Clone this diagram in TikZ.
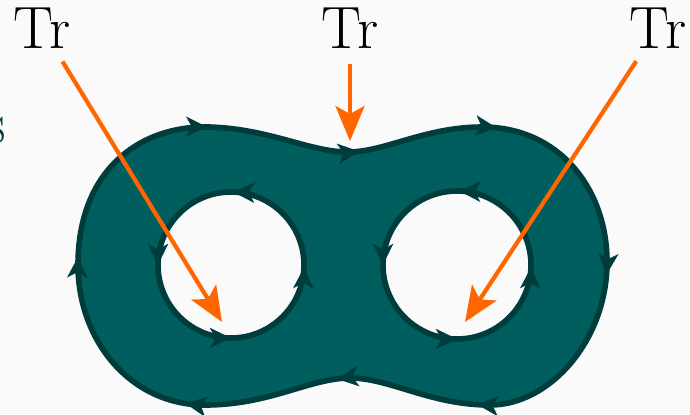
\documentclass[tikz,border=0pt]{standalone}
\usepackage{tikz}
\usetikzlibrary{arrows.meta, decorations.markings}

\definecolor{tealfill}{RGB}{0,94,94}
\definecolor{tealedge}{RGB}{0,60,60}
\definecolor{traceorange}{RGB}{255,102,0}
\definecolor{bggray}{RGB}{250,250,250}

\newcommand{\flowtip}{\arrow{Stealth[length=4.2mm, width=4mm, inset=1.1mm]}}

\begin{document}
\begin{tikzpicture}[
  x=0.02cm, y=-0.02cm,
  label/.style={font=\fontsize{34}{40}\selectfont, inner sep=0pt},
  edge/.style={draw=tealedge, line width=3.2pt, postaction={decorate}},
  outerflow/.style={edge, decoration={markings,
      mark=at position 0.006 with {\flowtip},
      mark=at position 0.152 with {\flowtip},
      mark=at position 0.262 with {\flowtip},
      mark=at position 0.362 with {\flowtip},
      mark=at position 0.507 with {\flowtip},
      mark=at position 0.652 with {\flowtip},
      mark=at position 0.754 with {\flowtip},
      mark=at position 0.864 with {\flowtip}}},
  holeflow/.style={edge, decoration={markings,
      mark=at position 0.245 with {\flowtip},
      mark=at position 0.5 with {\flowtip},
      mark=at position 0.75 with {\flowtip},
      mark=at position 0.995 with {\flowtip}}},
  trace/.style={draw=traceorange, line width=2.4pt, shorten <=0.3cm,
      -{Stealth[length=7mm, width=5.8mm, inset=1.6mm]}}
]

% background and page size
\fill[bggray] (0,0) rectangle (690,414);
\useasboundingbox (0,0) rectangle (690,414);

% the two holes
\coordinate (hl) at (231,265);
\coordinate (hr) at (457,265);

% surface with two holes
\fill[tealfill, even odd rule]
  (78,265) .. controls (78,170) and (140,125) .. (210,127)
  .. controls (270,129) and (310,152) .. (348,152)
  .. controls (385,152) and (425,127) .. (482,127)
  .. controls (560,127) and (607,190) .. (607,262)
  .. controls (607,340) and (550,405) .. (490,405)
  .. controls (430,405) and (390,378) .. (350,378)
  .. controls (310,378) and (270,405) .. (205,405)
  .. controls (130,405) and (78,340) .. (78,265) -- cycle
  (hl) circle[radius=73]
  (hr) circle[radius=74];

% oriented boundary
\draw[outerflow]
  (78,265) .. controls (78,170) and (140,125) .. (210,127)
  .. controls (270,129) and (310,152) .. (348,152)
  .. controls (385,152) and (425,127) .. (482,127)
  .. controls (560,127) and (607,190) .. (607,262)
  .. controls (607,340) and (550,405) .. (490,405)
  .. controls (430,405) and (390,378) .. (350,378)
  .. controls (310,378) and (270,405) .. (205,405)
  .. controls (130,405) and (78,340) .. (78,265) -- cycle;
\draw[holeflow] (hl) ++(73,0) arc[start angle=0, end angle=-360, radius=73];
\draw[holeflow] (hr) ++(74,0) arc[start angle=0, end angle=-360, radius=74];

% labels
\node[label, text=tealedge, anchor=base east] (cut) at (6,143) {s};
\node[label] (tl) at (42,28) {Tr};
\node[label] (tm) at (350,28) {Tr};
\node[label] (tr) at (658,28) {Tr};

\coordinate (lhead) at (222,322);
\coordinate (mhead) at (350,141);
\coordinate (rhead) at (465,322);

\draw[trace] (tl) -- (lhead);
\draw[trace] (tm) -- (mhead);
\draw[trace] (tr) -- (rhead);

\end{tikzpicture}
\end{document}
